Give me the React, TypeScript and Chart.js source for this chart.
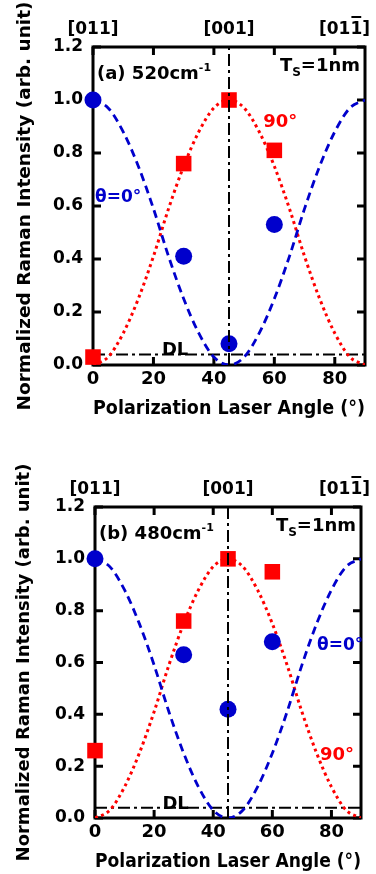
import React, { useEffect, useRef } from "react";
import { Chart, registerables } from "chart.js";
Chart.register(...registerables);

// ---- data ----
const measAngles = [0, 30, 45, 60];
const panelATheta0 = [1.0, 0.41, 0.08, 0.53];
const panelA90 = [0.03, 0.76, 1.0, 0.81];
const panelBTheta0 = [1.0, 0.63, 0.42, 0.68];
const panelB90 = [0.26, 0.76, 1.0, 0.95];

const fitAngles = [0, 5, 10, 15, 20, 25, 30, 35, 40, 45, 50, 55, 60, 65, 70, 75, 80, 85, 90];
const fitTheta0 = [1.0, 0.97, 0.88, 0.75, 0.59, 0.41, 0.25, 0.12, 0.03, 0.0, 0.03, 0.12, 0.25, 0.41, 0.59, 0.75, 0.88, 0.97, 1.0];
const fit90 = [0.0, 0.03, 0.12, 0.25, 0.41, 0.59, 0.75, 0.88, 0.97, 1.0, 0.97, 0.88, 0.75, 0.59, 0.41, 0.25, 0.12, 0.03, 0.0];

const dlLevel = [0.04, 0.04];
const dlAngles = [0, 90];
const vAngle = [45, 45];
const vLevels = [0, 1.2];

const xTickValues = [0, 20, 40, 60, 80];
const topTickValues = [0, 45, 90];
const topTickLabels = ["[011]", "[001]", "[011]"];
const xTitle = "Polarization Laser Angle (°)";
const yTitle = "Normalized Raman Intensity (arb. unit)";

const FONT = "'DejaVu Sans', sans-serif";
const BLUE = "#0000CC";
const RED = "#FF0000";

type PanelCfg = {
  theta0: number[];
  p90: number[];
  label: string;
  thetaPos: [number, number];
  p90Pos: [number, number];
  height: number;
  top: number;
  padTop: number;
  yWidth: number;
  xHeight: number;
  padRight: number;
  xTitlePad: number;
  yTitleSize: number;
};

const zip = (xs: number[], ys: number[]) => xs.map((x, i) => ({ x, y: ys[i] }));

function makeDecor(cfg: PanelCfg) {
  return {
    id: "decor",
    beforeDatasetsDraw(chart: any) {
      const { ctx, chartArea: a, scales } = chart;
      const xs = scales.x;
      const ys = scales.y;
      ctx.save();
      ctx.strokeStyle = "#000";
      ctx.lineWidth = 3;
      ctx.strokeRect(a.left, a.top, a.right - a.left, a.bottom - a.top);
      const tl = 8;
      ctx.beginPath();
      xs.ticks.forEach((t: any) => {
        const px = xs.getPixelForValue(t.value);
        ctx.moveTo(px, a.bottom);
        ctx.lineTo(px, a.bottom - tl);
        ctx.moveTo(px, a.top);
        ctx.lineTo(px, a.top + tl);
      });
      ys.ticks.forEach((t: any) => {
        const py = ys.getPixelForValue(t.value);
        ctx.moveTo(a.left, py);
        ctx.lineTo(a.left + tl, py);
        ctx.moveTo(a.right, py);
        ctx.lineTo(a.right - tl, py);
      });
      ctx.stroke();
      ctx.restore();
    },
    afterDraw(chart: any) {
      const { ctx, chartArea: a, scales } = chart;
      const xs = scales.x;
      const ys = scales.y;
      ctx.save();
      // top orientation labels
      ctx.font = `bold 17px ${FONT}`;
      ctx.fillStyle = "#000";
      ctx.textBaseline = "middle";
      ctx.textAlign = "left";
      const ty = a.top - 17;
      topTickValues.forEach((v, i) => {
        const txt = topTickLabels[i];
        const w = ctx.measureText(txt).width;
        const cx = xs.getPixelForValue(v);
        let x0 = cx - w / 2;
        if (x0 + w > 370) x0 = 370 - w;
        ctx.fillText(txt, x0, ty);
        if (i === topTickLabels.length - 1) {
          const w1 = ctx.measureText("[01").width;
          const w2 = ctx.measureText("[011").width;
          ctx.fillRect(x0 + w1 + 1, ty - 14, w2 - w1 - 2, 2);
        }
      });
      // panel label
      ctx.textBaseline = "alphabetic";
      ctx.font = `bold 18px ${FONT}`;
      const ly = a.top + 32;
      ctx.fillText(cfg.label, a.left + 4, ly);
      const lw = ctx.measureText(cfg.label).width;
      ctx.font = `bold 11px ${FONT}`;
      ctx.fillText("-1", a.left + 4 + lw, ly - 8);
      // Ts=1nm
      ctx.font = `bold 18px ${FONT}`;
      const tW = ctx.measureText("T").width;
      const rW = ctx.measureText("=1nm").width;
      ctx.font = `bold 12px ${FONT}`;
      const sW = ctx.measureText("S").width;
      const tx0 = a.right - 5 - rW - sW - tW;
      const tyb = a.top + 24;
      ctx.font = `bold 18px ${FONT}`;
      ctx.fillText("T", tx0, tyb);
      ctx.fillText("=1nm", tx0 + tW + sW, tyb);
      ctx.font = `bold 12px ${FONT}`;
      ctx.fillText("S", tx0 + tW, tyb + 5);
      // DL
      ctx.font = `bold 18px ${FONT}`;
      ctx.fillText("DL", xs.getPixelForValue(22.8), ys.getPixelForValue(0.04) + 1);
      // series labels
      ctx.textBaseline = "middle";
      ctx.font = `bold 17px ${FONT}`;
      ctx.fillStyle = BLUE;
      ctx.fillText("θ=0°", xs.getPixelForValue(cfg.thetaPos[0]), ys.getPixelForValue(cfg.thetaPos[1]));
      ctx.font = `bold 18px ${FONT}`;
      ctx.fillStyle = RED;
      ctx.fillText("90°", xs.getPixelForValue(cfg.p90Pos[0]), ys.getPixelForValue(cfg.p90Pos[1]));
      ctx.restore();
    },
  };
}

function Panel({ cfg }: { cfg: PanelCfg }) {
  const ref = useRef<HTMLCanvasElement>(null);
  useEffect(() => {
    const canvas = ref.current!;
    const chart = new Chart(canvas, {
      type: "scatter",
      data: {
        datasets: [
          {
            data: zip(vAngle, vLevels),
            showLine: true,
            borderColor: "#000",
            borderWidth: 2,
            borderDash: [12, 4, 3, 4],
            pointRadius: 0,
            order: 0,
          },
          {
            data: zip(dlAngles, dlLevel),
            showLine: true,
            borderColor: "#000",
            borderWidth: 2,
            borderDash: [12, 4, 3, 4],
            pointRadius: 0,
            order: 3,
          },
          {
            data: zip(measAngles, cfg.theta0),
            backgroundColor: BLUE,
            borderColor: BLUE,
            pointStyle: "circle",
            pointRadius: 8.5,
            borderWidth: 0,
            clip: false,
            order: 1,
          },
          {
            data: zip(measAngles, cfg.p90),
            backgroundColor: RED,
            borderColor: RED,
            pointStyle: "rect",
            pointRadius: 11,
            borderWidth: 0,
            clip: false,
            order: 1,
          },
          {
            data: zip(fitAngles, fitTheta0),
            showLine: true,
            borderColor: BLUE,
            borderWidth: 2.8,
            borderDash: [8, 5],
            cubicInterpolationMode: "monotone",
            pointRadius: 0,
            order: 2,
          },
          {
            data: zip(fitAngles, fit90),
            showLine: true,
            borderColor: RED,
            borderWidth: 3,
            borderDash: [3, 3.5],
            cubicInterpolationMode: "monotone",
            pointRadius: 0,
            order: 2,
          },
        ] as any,
      },
      options: {
        animation: false,
        responsive: false,
        maintainAspectRatio: false,
        events: [],
        layout: { padding: { top: cfg.padTop, right: cfg.padRight, left: 0, bottom: 0 } },
        plugins: { legend: { display: false }, tooltip: { enabled: false } },
        scales: {
          x: {
            type: "linear",
            min: 0,
            max: 90,
            afterBuildTicks: (s: any) => {
              s.ticks = xTickValues.map((v) => ({ value: v }));
            },
            ticks: {
              autoSkip: false,
              maxRotation: 0,
              padding: 4,
              color: "#000",
              font: { family: FONT, size: 18, weight: "bold" },
            },
            grid: { display: false, drawTicks: false },
            border: { display: false },
            title: {
              display: true,
              text: xTitle,
              color: "#000",
              font: { family: FONT, size: 20, weight: "bold" },
              padding: { top: 0, bottom: cfg.xTitlePad },
            },
            afterFit: (s: any) => {
              s.height = cfg.xHeight;
            },
          },
          y: {
            type: "linear",
            min: 0,
            max: 1.2,
            ticks: {
              stepSize: 0.2,
              padding: 10,
              color: "#000",
              font: { family: FONT, size: 17, weight: "bold" },
              callback: (v: any) => Number(v).toFixed(1),
            },
            grid: { display: false, drawTicks: false },
            border: { display: false },
            title: {
              display: true,
              text: yTitle,
              color: "#000",
              font: { family: FONT, size: cfg.yTitleSize, weight: "bold" },
              padding: { top: 14, bottom: 0 },
            },
            afterFit: (s: any) => {
              s.width = cfg.yWidth;
            },
          },
        },
      } as any,
      plugins: [makeDecor(cfg)],
    });
    return () => chart.destroy();
  }, []);
  return (
    <canvas
      ref={ref}
      width={376}
      height={cfg.height}
      style={{ position: "absolute", left: 0, top: cfg.top, width: 376, height: cfg.height }}
    />
  );
}

const panelA: PanelCfg = {
  theta0: panelATheta0,
  p90: panelA90,
  label: "(a) 520cm",
  thetaPos: [0.7, 0.63],
  p90Pos: [56.3, 0.917],
  height: 437,
  top: 0,
  padTop: 47,
  yWidth: 93,
  xHeight: 72,
  padRight: 11,
  xTitlePad: 16,
  yTitleSize: 18.5,
};

const panelB: PanelCfg = {
  theta0: panelBTheta0,
  p90: panelB90,
  label: "(b) 480cm",
  thetaPos: [75.1, 0.667],
  p90Pos: [76.1, 0.243],
  height: 434,
  top: 440,
  padTop: 67,
  yWidth: 95,
  xHeight: 56,
  padRight: 15,
  xTitlePad: 0,
  yTitleSize: 18,
};

export default function App() {
  return (
    <div style={{ position: "absolute", left: 0, top: 0, width: 376, height: 874, background: "#fff" }}>
      <Panel cfg={panelA} />
      <Panel cfg={panelB} />
    </div>
  );
}
